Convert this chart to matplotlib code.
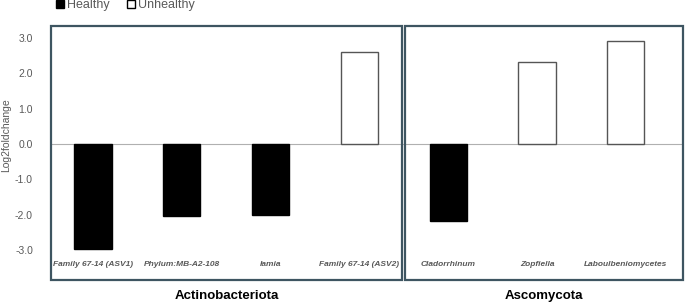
import matplotlib.pyplot as plt
from matplotlib.patches import Patch, Rectangle

# Data
taxa = ["Family 67-14 (ASV1)", "Phylum:MB-A2-108", "Iamia", "Family 67-14 (ASV2)",
        "Cladorrhinum", "Zopfiella", "Laboulbeniomycetes"]
log2fc = [-2.98, -2.04, -2.02, 2.60, -2.18, 2.32, 2.92]
groups = ["Actinobacteriota", "Ascomycota"]
group_sizes = [4, 3]
yticks = [-3.0, -2.0, -1.0, 0.0, 1.0, 2.0, 3.0]

plt.rcParams['font.family'] = ['Liberation Sans', 'DejaVu Sans']

fig = plt.figure(figsize=(6.85, 3.04), dpi=100)
ax = fig.add_axes([51 / 685, 1 - 280 / 304, (684 - 51) / 685, (280 - 26) / 304])

colors = ["black" if v < 0 else "white" for v in log2fc]
edges = ["black" if v < 0 else "#555555" for v in log2fc]
x = list(range(len(taxa)))
ax.bar(x, log2fc, width=0.42, color=colors, edgecolor=edges, linewidth=1.0, zorder=2)
ax.axhline(0, color="#b0b0b0", linewidth=0.8, zorder=1)

ax.set_xlim(-0.473, 6.655)
ax.set_ylim(-3.85, 3.34)
ax.set_yticks(yticks)
ax.set_yticklabels([f"{t:.1f}" for t in yticks], fontsize=7.5, color="#595959")
ax.tick_params(axis="y", length=0, pad=13)
ax.set_xticks([])
for s in ax.spines.values():
    s.set_visible(False)
fig.text(6 / 685, 1 - 135 / 304, "Log2foldchange", rotation=90, ha="center", va="center",
         fontsize=7.5, color="#595959")

for i, name in enumerate(taxa):
    ax.text(i, -3.40, name, ha="center", va="center", fontsize=6,
            style="italic", weight="bold", color="#595959")

# group boxes and labels
box_edges = [(-0.473, 3.48), (3.515, 6.64)]
for (x0, x1), g, n in zip(box_edges, groups, group_sizes):
    ax.add_patch(Rectangle((x0, -3.85), x1 - x0, 3.34 + 3.85, fill=False,
                           edgecolor="#3e5561", linewidth=1.6, clip_on=False, zorder=3))
    ax.text((x0 + x1) / 2, -4.3, g, ha="center", va="center", fontsize=9.5,
            weight="bold", color="black")

handles = [Patch(facecolor="black", edgecolor="black", label="Healthy"),
           Patch(facecolor="white", edgecolor="black", label="Unhealthy")]
fig.legend(handles=handles, loc="center left", bbox_to_anchor=(45 / 685, 1 - 5 / 304),
           ncol=2, frameon=False, fontsize=9, handlelength=0.6, handleheight=0.6,
           handletextpad=0.25, columnspacing=1.4, labelcolor="#595959")

fig.savefig("out.png", dpi=100)
